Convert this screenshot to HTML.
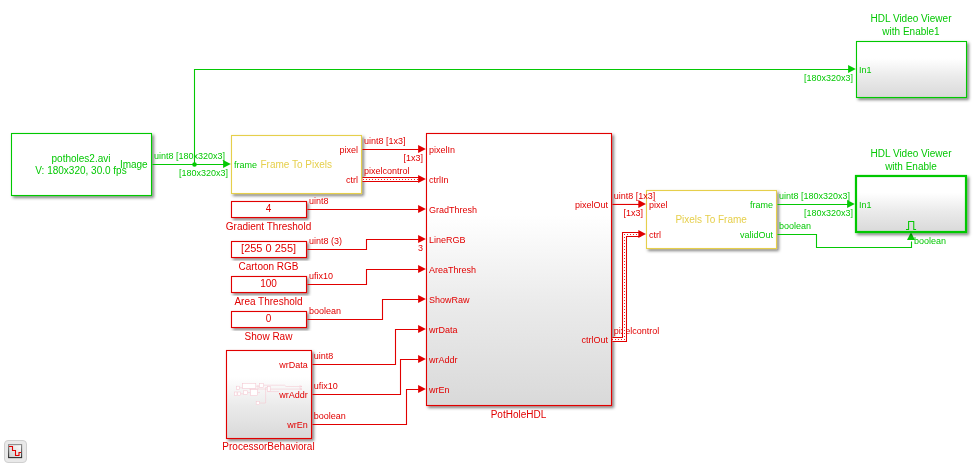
<!DOCTYPE html>
<html><head><meta charset="utf-8"><title>PotHole HDL model</title>
<style>
html,body{margin:0;padding:0;background:#fff;}
body{width:977px;height:466px;overflow:hidden;}
svg{display:block;will-change:transform;font-family:"Liberation Sans",Arial,sans-serif;}
</style></head><body>
<svg width="977" height="466" viewBox="0 0 977 466">
<defs>
<filter id="sh" x="-10%" y="-10%" width="130%" height="130%"><feDropShadow dx="1.9" dy="1.9" stdDeviation="1.6" flood-color="#000" flood-opacity="0.5"/></filter>
<linearGradient id="gr" x1="0" y1="0" x2="0" y2="1"><stop offset="0" stop-color="#fff"/><stop offset="0.3" stop-color="#fff"/><stop offset="0.62" stop-color="#ebebeb"/><stop offset="1" stop-color="#d9d9d9"/></linearGradient>
<linearGradient id="gb" x1="0" y1="0" x2="0" y2="1"><stop offset="0" stop-color="#8c8c8c"/><stop offset="1" stop-color="#2e2e2e"/></linearGradient>
<linearGradient id="gi" x1="1" y1="0" x2="0" y2="1"><stop offset="0" stop-color="#fff"/><stop offset="1" stop-color="#ccc"/></linearGradient>
</defs>
<rect x="11.5" y="133.5" width="140" height="62" fill="#fff" stroke="#04c804" stroke-width="1.1" filter="url(#sh)"/>
<text x="81" y="162" fill="#04c804" font-size="10" text-anchor="middle">potholes2.avi</text>
<text x="81" y="174" fill="#04c804" font-size="10" text-anchor="middle">V: 180x320, 30.0 fps</text>
<text x="147.7" y="168" fill="#04c804" font-size="10" text-anchor="end">Image</text>
<path d="M152.5 164.45 L224.5 164.45" fill="none" stroke="#04c804" stroke-width="1.1"/>
<path d="M230.8 164 L223.1 160.0 L223.1 168.0 Z" fill="#04c804"/>
<circle cx="194.5" cy="164.5" r="2.3" fill="#04c804"/>
<path d="M194.5 164.45 L194.5 69.45 L849.5 69.45" fill="none" stroke="#04c804" stroke-width="1.1"/>
<path d="M855.8 69 L848.1 65.0 L848.1 73.0 Z" fill="#04c804"/>
<text x="154" y="158.5" fill="#04c804" font-size="9">uint8 [180x320x3]</text>
<text x="179" y="176" fill="#04c804" font-size="9">[180x320x3]</text>
<text x="804" y="81" fill="#04c804" font-size="9">[180x320x3]</text>
<rect x="231.5" y="135.5" width="130" height="58" fill="#fff" stroke="#e6cf4b" stroke-width="1.1" filter="url(#sh)"/>
<text x="234" y="168" fill="#04c804" font-size="9">frame</text>
<text x="260.5" y="167.6" fill="#e6cf4b" font-size="10">Frame To Pixels</text>
<text x="358" y="152.8" fill="#e10000" font-size="9" text-anchor="end">pixel</text>
<text x="358" y="182.8" fill="#e10000" font-size="9" text-anchor="end">ctrl</text>
<path d="M362.5 149.45 L418.5 149.45" fill="none" stroke="#e10000" stroke-width="1.1"/>
<path d="M425.85 149 L418.15 145.0 L418.15 153.0 Z" fill="#e10000"/>
<text x="364" y="143.5" fill="#e10000" font-size="9">uint8 [1x3]</text>
<text x="403.5" y="160.8" fill="#e10000" font-size="9">[1x3]</text>
<text x="364" y="173.6" fill="#e10000" font-size="9">pixelcontrol</text>
<path d="M362.5 179.5 L419.5 179.5" fill="none" stroke="#e10000" stroke-width="5.05" stroke-linejoin="miter"/>
<path d="M362.5 179.5 L419.5 179.5" fill="none" stroke="#fff" stroke-width="2.95" stroke-linejoin="miter"/>
<path d="M362.5 179.5 L419.5 179.5" fill="none" stroke="#e10000" stroke-width="1.15" stroke-linecap="round" stroke-dasharray="0.01 2.99" stroke-dashoffset="-1"/>
<path d="M425.85 179 L418.15 175.0 L418.15 183.0 Z" fill="#e10000"/>
<rect x="231.5" y="201.5" width="75" height="16" fill="#fff" stroke="#e10000" stroke-width="1.1" filter="url(#sh)"/>
<text x="268.6" y="211.5" fill="#e10000" font-size="10" text-anchor="middle">4</text>
<text x="268.5" y="229.5" fill="#e10000" font-size="10" text-anchor="middle">Gradient Threshold</text>
<text x="309" y="203.5" fill="#e10000" font-size="9">uint8</text>
<rect x="231.5" y="241.5" width="75" height="16" fill="#fff" stroke="#e10000" stroke-width="1.1" filter="url(#sh)"/>
<text x="268.6" y="251.5" fill="#e10000" font-size="10" text-anchor="middle" textLength="55" lengthAdjust="spacingAndGlyphs">[255 0 255]</text>
<text x="268.5" y="269.5" fill="#e10000" font-size="10" text-anchor="middle">Cartoon RGB</text>
<text x="309" y="243.5" fill="#e10000" font-size="9">uint8 (3)</text>
<rect x="231.5" y="276.5" width="75" height="16" fill="#fff" stroke="#e10000" stroke-width="1.1" filter="url(#sh)"/>
<text x="268.6" y="286.5" fill="#e10000" font-size="10" text-anchor="middle">100</text>
<text x="268.5" y="304.5" fill="#e10000" font-size="10" text-anchor="middle">Area Threshold</text>
<text x="309" y="278.5" fill="#e10000" font-size="9">ufix10</text>
<rect x="231.5" y="311.5" width="75" height="16" fill="#fff" stroke="#e10000" stroke-width="1.1" filter="url(#sh)"/>
<text x="268.6" y="321.5" fill="#e10000" font-size="10" text-anchor="middle">0</text>
<text x="268.5" y="339.5" fill="#e10000" font-size="10" text-anchor="middle">Show Raw</text>
<text x="309" y="313.5" fill="#e10000" font-size="9">boolean</text>
<path d="M307.5 209.45 L418.5 209.45" fill="none" stroke="#e10000" stroke-width="1.1"/>
<path d="M425.85 209 L418.15 205.0 L418.15 213.0 Z" fill="#e10000"/>
<path d="M307.5 249.45 L366.5 249.45 L366.5 239.45 L418.5 239.45" fill="none" stroke="#e10000" stroke-width="1.1"/>
<path d="M425.85 239 L418.15 235.0 L418.15 243.0 Z" fill="#e10000"/>
<text x="418" y="250.5" fill="#e10000" font-size="9">3</text>
<path d="M307.5 284.45 L366.5 284.45 L366.5 269.45 L418.5 269.45" fill="none" stroke="#e10000" stroke-width="1.1"/>
<path d="M425.85 269 L418.15 265.0 L418.15 273.0 Z" fill="#e10000"/>
<path d="M307.5 319.45 L382.5 319.45 L382.5 299.45 L418.5 299.45" fill="none" stroke="#e10000" stroke-width="1.1"/>
<path d="M425.85 299 L418.15 295.0 L418.15 303.0 Z" fill="#e10000"/>
<rect x="226.5" y="350.5" width="85" height="88" fill="url(#gr)" stroke="#e10000" stroke-width="1.1" filter="url(#sh)"/>
<g stroke="#f5c6d0" fill="#fff" stroke-width="0.55"><path d="M263.6 385.2 H284.5 L286 386.5 H302 M270.2 389.1 H302 M267.5 391.6 H279 M259.5 403 H265.6 V387.5 H267.3 M255.8 386.2 H259.5 M249 389 H267.3 M240.7 393.8 H243.5 M247.6 392.6 H250.5 M257.5 392.6 H260 M258 389 V385.2 M239.4 387.8 H242.7" fill="none"/><rect x="242.7" y="383.4" width="13.1" height="4.9"/><rect x="236.6" y="386.2" width="2.8" height="3.3"/><rect x="234.5" y="392" width="2.5" height="3.7"/><rect x="237.8" y="392" width="2.9" height="3.7"/><rect x="243.5" y="390.8" width="4.1" height="3.6"/><rect x="250.5" y="389.5" width="7" height="6.2"/><rect x="259.5" y="383.4" width="4.1" height="4.1"/><rect x="267.3" y="386.7" width="2.9" height="4.5"/><rect x="256.2" y="401.4" width="3.3" height="3.3"/><path d="M299.5 385.6 L302 386.5 L299.5 387.4 M299.5 388.2 L302 389.1 L299.5 390" fill="none"/></g>
<text x="307.8" y="368" fill="#e10000" font-size="9" text-anchor="end">wrData</text>
<text x="307.8" y="398" fill="#e10000" font-size="9" text-anchor="end">wrAddr</text>
<text x="307.8" y="428" fill="#e10000" font-size="9" text-anchor="end">wrEn</text>
<text x="268.5" y="449.8" fill="#e10000" font-size="10" text-anchor="middle">ProcessorBehavioral</text>
<text x="313.8" y="359.2" fill="#e10000" font-size="9">uint8</text>
<text x="313.8" y="389.2" fill="#e10000" font-size="9">ufix10</text>
<text x="313.8" y="419.2" fill="#e10000" font-size="9">boolean</text>
<path d="M312.5 364.45 L395.5 364.45 L395.5 329.45 L418.5 329.45" fill="none" stroke="#e10000" stroke-width="1.1"/>
<path d="M425.85 329 L418.15 325.0 L418.15 333.0 Z" fill="#e10000"/>
<path d="M312.5 394.45 L400.5 394.45 L400.5 359.45 L418.5 359.45" fill="none" stroke="#e10000" stroke-width="1.1"/>
<path d="M425.85 359 L418.15 355.0 L418.15 363.0 Z" fill="#e10000"/>
<path d="M312.5 424.45 L406.5 424.45 L406.5 389.45 L418.5 389.45" fill="none" stroke="#e10000" stroke-width="1.1"/>
<path d="M425.85 389 L418.15 385.0 L418.15 393.0 Z" fill="#e10000"/>
<rect x="426.5" y="133.5" width="185" height="272" fill="url(#gr)" stroke="#e10000" stroke-width="1.1" filter="url(#sh)"/>
<text x="429" y="152.7" fill="#e10000" font-size="9">pixelIn</text>
<text x="429" y="182.7" fill="#e10000" font-size="9">ctrlIn</text>
<text x="429" y="212.7" fill="#e10000" font-size="9">GradThresh</text>
<text x="429" y="242.7" fill="#e10000" font-size="9">LineRGB</text>
<text x="429" y="272.7" fill="#e10000" font-size="9">AreaThresh</text>
<text x="429" y="302.7" fill="#e10000" font-size="9">ShowRaw</text>
<text x="429" y="332.7" fill="#e10000" font-size="9">wrData</text>
<text x="429" y="362.7" fill="#e10000" font-size="9">wrAddr</text>
<text x="429" y="392.7" fill="#e10000" font-size="9">wrEn</text>
<text x="608" y="207.7" fill="#e10000" font-size="9" text-anchor="end">pixelOut</text>
<text x="608" y="342.7" fill="#e10000" font-size="9" text-anchor="end">ctrlOut</text>
<text x="518.5" y="418" fill="#e10000" font-size="10" text-anchor="middle">PotHoleHDL</text>
<path d="M612.5 204.45 L639.5 204.45" fill="none" stroke="#e10000" stroke-width="1.1"/>
<path d="M646.0 204 L638.3 200.0 L638.3 208.0 Z" fill="#e10000"/>
<text x="623.5" y="215.7" fill="#e10000" font-size="9">[1x3]</text>
<text x="613.8" y="333.5" fill="#e10000" font-size="9">pixelcontrol</text>
<path d="M612.5 339.5 L624.5 339.5 L624.5 234.5 L640.5 234.5" fill="none" stroke="#e10000" stroke-width="5.05" stroke-linejoin="miter"/>
<path d="M612.5 339.5 L624.5 339.5 L624.5 234.5 L640.5 234.5" fill="none" stroke="#fff" stroke-width="2.95" stroke-linejoin="miter"/>
<path d="M612.5 339.5 L624.5 339.5 L624.5 234.5 L640.5 234.5" fill="none" stroke="#e10000" stroke-width="1.15" stroke-linecap="round" stroke-dasharray="0.01 2.99" stroke-dashoffset="0"/>
<path d="M646.0 234 L638.3 230.0 L638.3 238.0 Z" fill="#e10000"/>
<rect x="646.5" y="190.5" width="130" height="58" fill="#fff" stroke="#e6cf4b" stroke-width="1.1" filter="url(#sh)"/>
<text x="613.8" y="198.5" fill="#e10000" font-size="9">uint8 [1x3]</text>
<text x="648.9" y="207.5" fill="#e10000" font-size="9">pixel</text>
<text x="648.9" y="237.5" fill="#e10000" font-size="9">ctrl</text>
<text x="675.4" y="222.6" fill="#e6cf4b" font-size="10">Pixels To Frame</text>
<text x="773" y="207.5" fill="#04c804" font-size="9" text-anchor="end">frame</text>
<text x="773" y="237.5" fill="#04c804" font-size="9" text-anchor="end">validOut</text>
<path d="M777.5 204.5 L848.5 204.5" fill="none" stroke="#04c804" stroke-width="1.1"/>
<path d="M854.8 204 L847.1 200.0 L847.1 208.0 Z" fill="#04c804"/>
<text x="779" y="198.5" fill="#04c804" font-size="9">uint8 [180x320x3]</text>
<text x="804" y="215.7" fill="#04c804" font-size="9">[180x320x3]</text>
<path d="M777.5 234.55 L816.5 234.55 L816.5 247.55 L911.5 247.55 L911.5 241.55" fill="none" stroke="#04c804" stroke-width="1.1"/>
<path d="M911.0 232.2 L907.0 239.9 L915.0 239.9 Z" fill="#04c804"/>
<text x="779" y="228.5" fill="#04c804" font-size="9">boolean</text>
<text x="914" y="244.4" fill="#04c804" font-size="9">boolean</text>
<rect x="856.5" y="41.5" width="110" height="56" fill="url(#gr)" stroke="#04c804" stroke-width="1.1" filter="url(#sh)"/>
<text x="859" y="73" fill="#04c804" font-size="9">In1</text>
<text x="911" y="22" fill="#04c804" font-size="10" text-anchor="middle">HDL Video Viewer</text>
<text x="911" y="35" fill="#04c804" font-size="10" text-anchor="middle">with Enable1</text>
<rect x="856" y="176" width="110" height="56" fill="url(#gr)" stroke="#04c804" stroke-width="2.2" filter="url(#sh)"/>
<text x="859" y="208" fill="#04c804" font-size="9">In1</text>
<text x="911" y="157" fill="#04c804" font-size="10" text-anchor="middle">HDL Video Viewer</text>
<text x="911" y="170" fill="#04c804" font-size="10" text-anchor="middle">with Enable</text>
<path d="M906 229.45 H908.6 V221.55 H913.75 V229.45 H916.1" fill="none" stroke="#04c804" stroke-width="1.05"/>
<rect x="4.5" y="440.5" width="22" height="22" rx="3.5" fill="#e9e9e9" stroke="#d0d0d0"/>
<rect x="8.6" y="444.6" width="13" height="13" fill="url(#gi)" stroke="url(#gb)" stroke-width="1.1"/>
<path d="M9 446.5 H12.5 V450.5 H15.5 V455.5 H19 V452.5 H21" fill="none" stroke="#e00000" stroke-width="1.1"/>
</svg>
</body></html>
